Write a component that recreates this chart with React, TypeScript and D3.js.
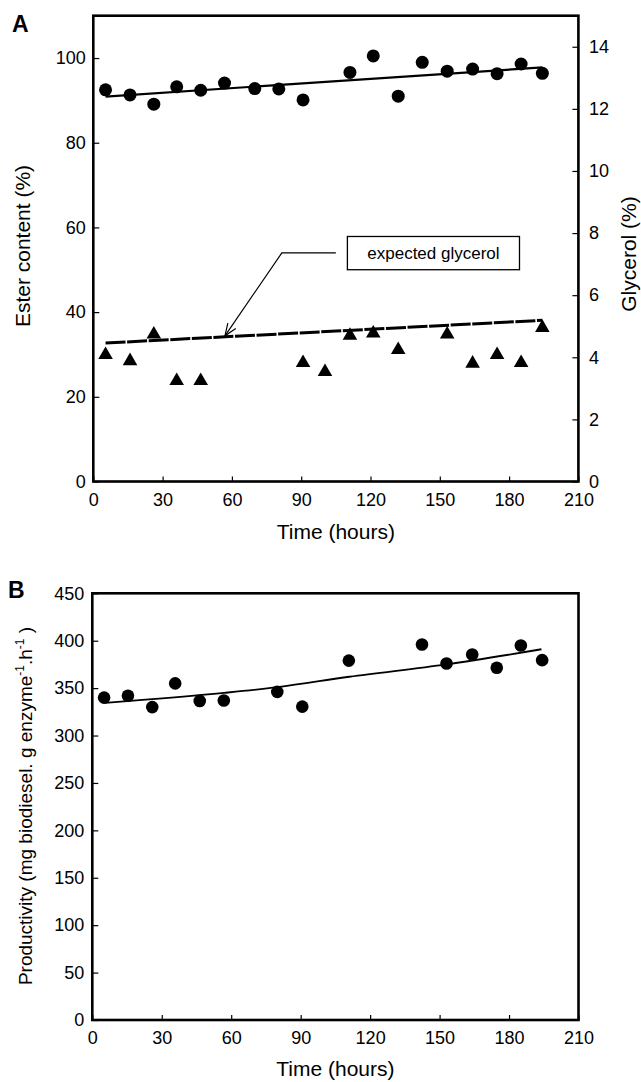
import React, { useEffect, useRef } from 'react';
import * as d3 from 'd3';

// ---------- Data ----------
const timeTicks = [0, 30, 60, 90, 120, 150, 180, 210];
const esterTicks = [0, 20, 40, 60, 80, 100];
const glycerolTicks = [0, 2, 4, 6, 8, 10, 12, 14];
const productivityTicks = [0, 50, 100, 150, 200, 250, 300, 350, 400, 450];

const esterTimes = [5.3, 15.9, 26.2, 36.1, 46.5, 56.8, 69.9, 80.3, 90.8, 111.1, 121.2, 132.0, 142.4, 153.2, 164.2, 174.8, 185.2, 194.4];
const esterContent = [92.5, 91.3, 89.1, 93.2, 92.4, 94.1, 92.8, 92.7, 90.1, 96.6, 100.5, 91.0, 99.0, 96.9, 97.4, 96.3, 98.6, 96.4];
const esterFit: [number, number][] = [[5.3, 90.9], [194.4, 97.8]];

const glycerolTimes = [5.3, 15.9, 26.2, 36.1, 46.5, 90.8, 100.3, 111.1, 121.2, 132.0, 153.2, 164.2, 174.8, 185.2, 194.4];
const glycerolValues = [4.08, 3.88, 4.74, 3.24, 3.24, 3.82, 3.53, 4.7, 4.77, 4.24, 4.74, 3.8, 4.08, 3.82, 4.95];
const expectedGlycerol: [number, number][] = [[5.3, 4.46], [194.4, 5.19]];

const prodTimes = [5.1, 15.4, 25.9, 35.8, 46.4, 56.8, 79.9, 90.7, 110.8, 142.4, 153.0, 164.1, 174.7, 185.1, 194.3];
const productivity = [340, 342, 330, 355, 336.5, 337, 346, 330.5, 379, 396, 376, 385.5, 371.5, 395, 379.5];
const productivityFit: [number, number][] = [[5.5, 334.5], [57, 345], [80, 351], [111, 362], [153, 375], [194, 391]];

// annotation (in data units: time, glycerol %)
const annotationText = 'expected glycerol';
const annotationBox = { t0: 110, t1: 184.5, g0: 6.82, g1: 7.89 };
const annotationElbow: [number, number] = [81.6, 7.36];
const annotationStart: [number, number] = [105, 7.36];
const annotationTipTime = 57;

const FONT = "'Liberation Sans', Arial, Helvetica, sans-serif";

export default function App() {
  const ref = useRef<SVGSVGElement>(null);

  useEffect(() => {
    const svg = d3.select(ref.current);
    svg.selectAll('*').remove();

    const styleAxis = (g: d3.Selection<SVGGElement, unknown, null, undefined>, fs: number) => {
      g.select('.domain').remove();
      g.selectAll('.tick line').attr('stroke', '#000').attr('stroke-width', 1.2);
      g.selectAll('.tick text').attr('fill', '#000').style('font-size', fs + 'px').style('font-family', FONT);
      g.attr('font-family', FONT);
    };

    // ---------- Panel A ----------
    const xA = d3.scaleLinear().domain([0, 210]).range([93.3, 578.4]);
    const yA = d3.scaleLinear().domain([0, 110]).range([481.5, 15.7]);
    const yR = d3.scaleLinear().domain([0, 15]).range([481.5, 15.7]);

    const gA = svg.append('g');

    const axA = gA.append('g').attr('transform', `translate(0,${yA(0)})`)
      .call(d3.axisBottom(xA).tickValues(timeTicks).tickSizeInner(-5).tickSizeOuter(0).tickPadding(12).tickFormat(d3.format('d')));
    styleAxis(axA, 18);
    const ayA = gA.append('g').attr('transform', `translate(${xA(0)},0)`)
      .call(d3.axisLeft(yA).tickValues(esterTicks).tickSizeInner(-6).tickSizeOuter(0).tickPadding(7.5).tickFormat(d3.format('d')));
    styleAxis(ayA, 18);
    const arA = gA.append('g').attr('transform', `translate(${xA(210)},0)`)
      .call(d3.axisRight(yR).tickValues(glycerolTicks).tickSizeInner(-6).tickSizeOuter(0).tickPadding(10.5).tickFormat(d3.format('d')));
    styleAxis(arA, 18);

    gA.append('rect')
      .attr('x', xA(0)).attr('y', yA.range()[1])
      .attr('width', xA(210) - xA(0)).attr('height', yA(0) - yA.range()[1])
      .attr('fill', 'none').attr('stroke', '#000').attr('stroke-width', 2.6);

    const lineA = d3.line<[number, number]>().x(d => xA(d[0])).y(d => yA(d[1]));
    const lineR = d3.line<[number, number]>().x(d => xA(d[0])).y(d => yR(d[1]));

    gA.append('path').attr('d', lineA(esterFit)!).attr('fill', 'none').attr('stroke', '#000').attr('stroke-width', 2.2);
    gA.append('path').attr('d', lineR(expectedGlycerol)!).attr('fill', 'none').attr('stroke', '#000')
      .attr('stroke-width', 3).attr('stroke-dasharray', '20,1.6');

    gA.selectAll('circle.ester').data(esterTimes).enter().append('circle')
      .attr('cx', d => xA(d)).attr('cy', (_, i) => yA(esterContent[i])).attr('r', 6.5).attr('fill', '#000');

    const tri = d3.symbol().type(d3.symbolTriangle).size(92);
    gA.selectAll('path.gly').data(glycerolTimes).enter().append('path')
      .attr('d', tri()!)
      .attr('transform', (d, i) => `translate(${xA(d)},${yR(glycerolValues[i])})`)
      .attr('fill', '#000');

    // annotation
    const bx0 = xA(annotationBox.t0), bx1 = xA(annotationBox.t1);
    const by0 = yR(annotationBox.g1), by1 = yR(annotationBox.g0);
    gA.append('rect').attr('x', bx0).attr('y', by0).attr('width', bx1 - bx0).attr('height', by1 - by0)
      .attr('fill', '#fff').attr('stroke', '#000').attr('stroke-width', 1.3);
    gA.append('text').attr('x', (bx0 + bx1) / 2).attr('y', (by0 + by1) / 2).attr('dy', '0.35em')
      .attr('text-anchor', 'middle').style('font-size', '17px').style('font-family', FONT).text(annotationText);

    const g0 = expectedGlycerol[0], g1 = expectedGlycerol[1];
    const tipVal = g0[1] + (g1[1] - g0[1]) * (annotationTipTime - g0[0]) / (g1[0] - g0[0]);
    const tip: [number, number] = [xA(annotationTipTime), yR(tipVal) - 1];
    const elbow: [number, number] = [xA(annotationElbow[0]), yR(annotationElbow[1])];
    const start: [number, number] = [xA(annotationStart[0]), yR(annotationStart[1])];
    gA.append('path').attr('d', d3.line()([start, elbow, tip])!).attr('fill', 'none').attr('stroke', '#000').attr('stroke-width', 1.2);
    const ang = Math.atan2(elbow[1] - tip[1], elbow[0] - tip[0]);
    const ah = 13, spread = 0.38;
    const a1: [number, number] = [tip[0] + ah * Math.cos(ang - spread), tip[1] + ah * Math.sin(ang - spread)];
    const a2: [number, number] = [tip[0] + ah * Math.cos(ang + spread), tip[1] + ah * Math.sin(ang + spread)];
    gA.append('path').attr('d', d3.line()([a1, tip, a2])!).attr('fill', 'none').attr('stroke', '#000').attr('stroke-width', 1.2);

    // titles
    gA.append('text').attr('x', 12).attr('y', 32).style('font-size', '23px').style('font-weight', 'bold').style('font-family', FONT).text('A');
    gA.append('text').attr('transform', `translate(30,246) rotate(-90)`).attr('text-anchor', 'middle')
      .style('font-size', '21px').style('font-family', FONT).text('Ester content (%)');
    gA.append('text').attr('transform', `translate(636,254) rotate(-90)`).attr('text-anchor', 'middle')
      .style('font-size', '21px').style('font-family', FONT).text('Glycerol (%)');
    gA.append('text').attr('x', (xA(0) + xA(210)) / 2).attr('y', 539).attr('text-anchor', 'middle')
      .style('font-size', '21px').style('font-family', FONT).text('Time (hours)');

    // ---------- Panel B ----------
    const xB = d3.scaleLinear().domain([0, 210]).range([92.3, 578.5]);
    const yB = d3.scaleLinear().domain([0, 450]).range([1020, 593.3]);
    const gB = svg.append('g');

    const axB = gB.append('g').attr('transform', `translate(0,${yB(0)})`)
      .call(d3.axisBottom(xB).tickValues(timeTicks).tickSizeInner(-5).tickSizeOuter(0).tickPadding(11.5).tickFormat(d3.format('d')));
    styleAxis(axB, 18);
    const ayB = gB.append('g').attr('transform', `translate(${xB(0)},0)`)
      .call(d3.axisLeft(yB).tickValues(productivityTicks).tickSizeInner(-6).tickSizeOuter(0).tickPadding(8).tickFormat(d3.format('d')));
    styleAxis(ayB, 18);

    gB.append('rect')
      .attr('x', xB(0)).attr('y', yB(450))
      .attr('width', xB(210) - xB(0)).attr('height', yB(0) - yB(450))
      .attr('fill', 'none').attr('stroke', '#000').attr('stroke-width', 2.6);

    const lineB = d3.line<[number, number]>().x(d => xB(d[0])).y(d => yB(d[1])).curve(d3.curveMonotoneX);
    gB.append('path').attr('d', lineB(productivityFit)!).attr('fill', 'none').attr('stroke', '#000').attr('stroke-width', 1.8);

    gB.selectAll('circle.prod').data(prodTimes).enter().append('circle')
      .attr('cx', d => xB(d)).attr('cy', (_, i) => yB(productivity[i])).attr('r', 6.3).attr('fill', '#000');

    gB.append('text').attr('x', 8).attr('y', 598).style('font-size', '23px').style('font-weight', 'bold').style('font-family', FONT).text('B');
    const tB = gB.append('text').attr('transform', `translate(32,806) rotate(-90)`).attr('text-anchor', 'middle')
      .style('font-size', '19px').style('font-family', FONT);
    tB.append('tspan').text('Productivity (mg biodiesel. g enzyme');
    tB.append('tspan').attr('dy', -8).style('font-size', '12px').text('-1');
    tB.append('tspan').attr('dy', 8).text('.h');
    tB.append('tspan').attr('dy', -8).style('font-size', '12px').text('-1');
    tB.append('tspan').attr('dy', 8).text(' )');
    gB.append('text').attr('x', (xB(0) + xB(210)) / 2).attr('y', 1076).attr('text-anchor', 'middle')
      .style('font-size', '21px').style('font-family', FONT).text('Time (hours)');
  }, []);

  return (
    <svg ref={ref} width={641} height={1082}
      style={{ position: 'absolute', left: 0, top: 0, background: '#fff', fontFamily: FONT }} />
  );
}
